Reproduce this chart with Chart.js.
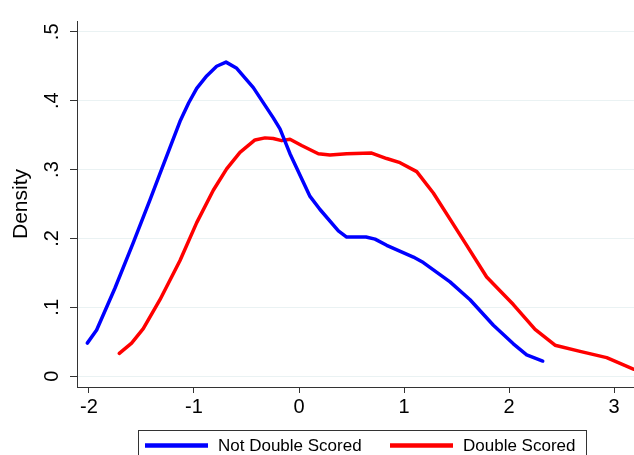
<!DOCTYPE html>
<html>
<head>
<meta charset="utf-8">
<script src="https://cdn.jsdelivr.net/npm/chart.js@4"></script>
<style>
  html, body { margin: 0; padding: 0; background: #fff; }
  #wrap { width: 634px; height: 455px; }
</style>
</head>
<body>
<div id="wrap"><canvas id="c" width="634" height="455"></canvas></div>
<script>
// ---- data ----
const seriesLabels = ["Not Double Scored", "Double Scored"];
const notDoubleX = [-2.016, -1.927, -1.752, -1.578, -1.419, -1.324, -1.229, -1.133, -1.05, -0.974, -0.879, -0.784, -0.695, -0.593, -0.435, -0.245, -0.181, -0.086, 0.105, 0.200, 0.375, 0.454, 0.638, 0.724, 0.835, 1.089, 1.184, 1.438, 1.629, 1.851, 2.041, 2.168, 2.321];
const notDoubleY = [0.048, 0.067, 0.128, 0.194, 0.256, 0.294, 0.332, 0.370, 0.397, 0.418, 0.436, 0.450, 0.456, 0.447, 0.419, 0.375, 0.359, 0.323, 0.261, 0.242, 0.211, 0.202, 0.202, 0.199, 0.190, 0.173, 0.165, 0.137, 0.111, 0.074, 0.047, 0.031, 0.022];
const doubleX = [-1.711, -1.594, -1.483, -1.324, -1.133, -0.974, -0.816, -0.689, -0.562, -0.419, -0.324, -0.245, -0.165, -0.086, 0.025, 0.184, 0.295, 0.454, 0.692, 0.835, 0.962, 1.121, 1.279, 1.438, 1.597, 1.787, 2.041, 2.248, 2.438, 2.676, 2.930, 3.19];
const doubleY = [0.033, 0.048, 0.069, 0.111, 0.168, 0.223, 0.270, 0.301, 0.325, 0.343, 0.346, 0.345, 0.342, 0.344, 0.335, 0.323, 0.321, 0.323, 0.324, 0.316, 0.310, 0.297, 0.266, 0.228, 0.190, 0.144, 0.104, 0.068, 0.045, 0.036, 0.027, 0.010];
const xTickValues = [-2, -1, 0, 1, 2, 3];
const yTickValues = [0, 0.1, 0.2, 0.3, 0.4, 0.5];
const yTickLabels = ["0", ".1", ".2", ".3", ".4", ".5"];
const yAxisTitle = "Density";

const FONT = "'Liberation Sans', Arial, sans-serif";
const toPoints = (xs, ys) => xs.map((x, i) => ({ x: x, y: ys[i] }));

const legendPlugin = {
  id: 'boxLegend',
  afterDraw(chart) {
    const ctx = chart.ctx;
    ctx.save();
    ctx.strokeStyle = '#333';
    ctx.lineWidth = 1;
    ctx.strokeRect(138.5, 430.5, 448, 40);
    const items = [
      { x0: 145, x1: 208, tx: 218 },
      { x0: 390, x1: 453, tx: 463 }
    ];
    chart.data.datasets.forEach((ds, i) => {
      const it = items[i];
      ctx.strokeStyle = ds.borderColor;
      ctx.lineWidth = 4.5;
      ctx.lineCap = 'butt';
      ctx.beginPath();
      ctx.moveTo(it.x0, 445.5);
      ctx.lineTo(it.x1, 445.5);
      ctx.stroke();
      ctx.fillStyle = '#000';
      ctx.font = '17px ' + FONT;
      ctx.textBaseline = 'middle';
      ctx.textAlign = 'left';
      ctx.fillText(ds.label, it.tx, 446);
    });
    ctx.restore();
  }
};

new Chart(document.getElementById('c'), {
  type: 'line',
  data: {
    datasets: [
      { label: seriesLabels[0], data: toPoints(notDoubleX, notDoubleY), borderColor: '#0000ff', borderWidth: 3.5, pointRadius: 0, fill: false, tension: 0, borderJoinStyle: 'round', borderCapStyle: 'round' },
      { label: seriesLabels[1], data: toPoints(doubleX, doubleY), borderColor: '#ff0000', borderWidth: 3.5, pointRadius: 0, fill: false, tension: 0, borderJoinStyle: 'round', borderCapStyle: 'round' }
    ]
  },
  options: {
    responsive: false,
    animation: false,
    devicePixelRatio: 1,
    layout: { padding: { top: 15, right: 0, bottom: 0, left: 0 } },
    plugins: { legend: { display: false }, tooltip: { enabled: false } },
    scales: {
      x: {
        type: 'linear',
        min: -2.114,
        max: 3.19,
        afterBuildTicks: (s) => { s.ticks = xTickValues.map(v => ({ value: v })); },
        afterFit: (s) => { s.height = 68; },
        grid: { drawOnChartArea: false, drawTicks: true, tickLength: 6, tickColor: '#333' },
        border: { display: true, color: '#333', width: 1 },
        ticks: { color: '#000', font: { family: FONT, size: 20 }, padding: 2, maxRotation: 0, callback: (v) => String(v) }
      },
      y: {
        type: 'linear',
        min: -0.0157,
        max: 0.5157,
        afterBuildTicks: (s) => { s.ticks = yTickValues.map(v => ({ value: v })); },
        afterFit: (s) => { s.width = 77; },
        grid: { color: '#eaf2f3', lineWidth: 1, drawTicks: true, tickLength: 7, tickColor: '#333' },
        border: { display: true, color: '#333', width: 1 },
        ticks: {
          color: '#000', font: { family: FONT, size: 20 }, padding: 9,
          minRotation: 90, maxRotation: 90, crossAlign: 'center',
          callback: (v) => { const i = yTickValues.findIndex(t => Math.abs(t - v) < 1e-9); return i >= 0 ? yTickLabels[i] : ''; }
        },
        title: { display: true, text: yAxisTitle, color: '#000', font: { family: FONT, size: 21 }, padding: { top: 9, bottom: 0 } }
      }
    }
  },
  plugins: [legendPlugin]
});
</script>
</body>
</html>
